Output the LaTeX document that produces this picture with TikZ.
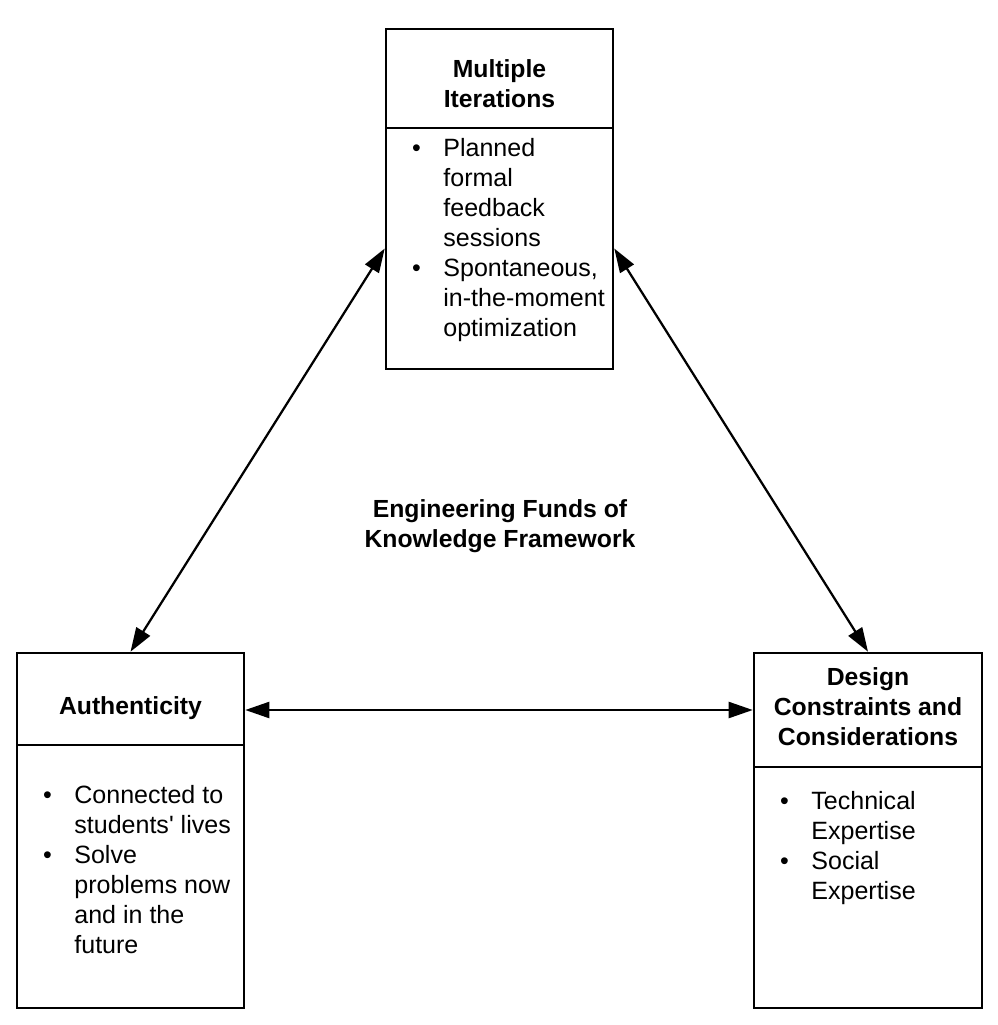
\documentclass[tikz,border=0pt]{standalone}
\usepackage{fontspec}
\setmainfont{Liberation Sans}
\usetikzlibrary{positioning,arrows.meta}
\newcommand{\bul}{\textbullet}

\begin{document}
\begin{tikzpicture}[
    box/.style={draw,line width=1.8pt,minimum width=5.675cm,inner sep=0pt},
    headtext/.style={inner sep=0pt,align=center,font=\bfseries\fontsize{17.6}{21.3}\selectfont},
    items/.style={anchor=north west,inner sep=0pt,font=\fontsize{17.8}{21.3}\selectfont},
    link/.style={{Triangle[length=0.6cm,width=0.4cm]}-{Triangle[length=0.6cm,width=0.4cm]},line width=1.6pt}]
    \useasboundingbox (0,0) rectangle (24.95,-25.625);
    % top box
    \node[box,minimum height=2.475cm] (iterhead) at (12.4875,-1.9625) {};
    \node[box,minimum height=6.025cm,below=-1.8pt of iterhead] (iterbody) {};
    \node[headtext] (itertitle) at ([yshift=-0.125cm]iterhead.center) {Multiple\\Iterations};
    \node[items] (iteritems) at ([xshift=0.68cm,yshift=-0.225cm]iterbody.north west)
        {\begin{tabular}{@{}p{0.78cm}@{}l@{}}
         \bul & Planned\\ & formal\\ & feedback\\ & sessions\\
         \bul & Spontaneous,\\ & in-the-moment\\ & optimization
         \end{tabular}};
    % left box
    \node[box,minimum height=2.3cm] (authhead) at (3.2625,-17.475) {};
    \node[box,minimum height=6.575cm,below=-1.8pt of authhead] (authbody) {};
    \node[headtext] (authtitle) at ([yshift=-0.225cm]authhead.center) {Authenticity};
    \node[items] (authitems) at ([xshift=0.68cm,yshift=-0.975cm]authbody.north west)
        {\begin{tabular}{@{}p{0.78cm}@{}l@{}}
         \bul & Connected to\\ & students\textquotesingle{} lives\\
         \bul & Solve\\ & problems now\\ & and in the\\ & future
         \end{tabular}};
    % right box
    \node[box,minimum width=5.7cm,minimum height=2.85cm] (designhead) at (21.7,-17.75) {};
    \node[box,minimum width=5.7cm,minimum height=6.025cm,below=-1.8pt of designhead] (designbody) {};
    \node[headtext] (designtitle) at ([yshift=0.075cm]designhead.center) {Design\\Constraints and\\Considerations};
    \node[items] (designitems) at ([xshift=0.68cm,yshift=-0.575cm]designbody.north west)
        {\begin{tabular}{@{}p{0.78cm}@{}l@{}}
         \bul & Technical\\ & Expertise\\
         \bul & Social\\ & Expertise
         \end{tabular}};
    % title
    \node[headtext] (eftitle) at (12.5,-13.15) {Engineering Funds of\\Knowledge Framework};
    % arrows
    \draw[link] (iterbody.west) -- (authhead.north);
    \draw[link] (iterbody.east) -- (designhead.north);
    \draw[link] (authhead.east |- designhead.west) -- (designhead.west);
\end{tikzpicture}
\end{document}
